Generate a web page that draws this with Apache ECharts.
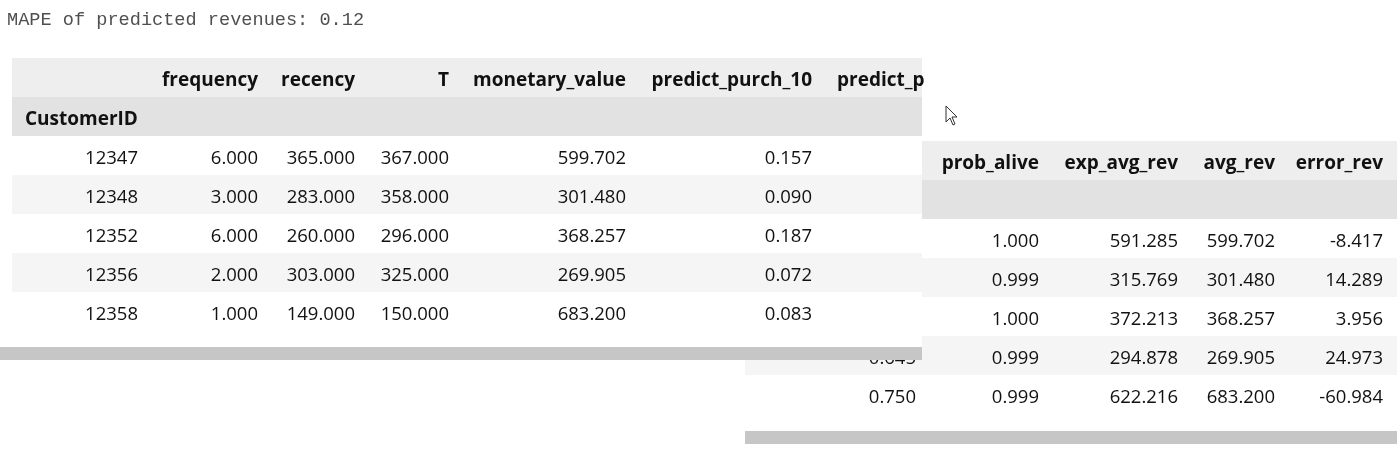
<!DOCTYPE html>
<html>
<head>
<meta charset="utf-8">
<script src="https://cdn.jsdelivr.net/npm/echarts@6/dist/echarts.min.js"></script>
<style>
  html, body { margin: 0; padding: 0; background: #fff; }
  #main { width: 1400px; height: 456px; }
</style>
</head>
<body>
<div id="main"></div>
<script>
var title = 'MAPE of predicted revenues: 0.12';
var indexName = 'CustomerID';
var customerIds = ['12347', '12348', '12352', '12356', '12358'];
var frequency = [6.000, 3.000, 6.000, 2.000, 1.000];
var recency = [365.000, 283.000, 260.000, 303.000, 149.000];
var tAge = [367.000, 358.000, 296.000, 325.000, 150.000];
var monetaryValue = [599.702, 301.480, 368.257, 269.905, 683.200];
var predictPurch10 = [0.157, 0.090, 0.187, 0.072, 0.083];
var predictPurchNext = [null, null, null, 0.645, 0.750]; // only the last rows peek out
var probAlive = [1.000, 0.999, 1.000, 0.999, 0.999];
var expAvgRev = [591.285, 315.769, 372.213, 294.878, 622.216];
var avgRev = [599.702, 301.480, 368.257, 269.905, 683.200];
var errorRev = [-8.417, 14.289, 3.956, 24.973, -60.984];

var leftHeaders = ['frequency', 'recency', 'T', 'monetary_value', 'predict_purch_10'];
var leftClipped = 'predict_p';
var rightHeaders = ['', 'prob_alive', 'exp_avg_rev', 'avg_rev', 'error_rev'];

// layout
var ROW_H = 39;
var DY = 3; // text sits a bit below the row middle
var FONT = '18.5px "Open Sans", sans-serif';
var BOLD = 'bold 19px "Open Sans", sans-serif';
var TXT = '#111';
var HEAD_BG = '#eeeeee';
var IDX_BG = '#e2e2e2';
var STRIPE = '#f5f5f5';
var BAR = '#c6c6c6';

function fmt(v) { return v == null ? '' : v.toFixed(3); }

var elements = [];

function text(x, y, s, font, align, z) {
    elements.push({
        type: 'text', x: x, y: y, z: z, silent: true,
        style: { text: s, font: font, fill: TXT, align: align, verticalAlign: 'middle' }
    });
}
function rect(x, y, w, h, color, z) {
    elements.push({
        type: 'rect', z: z, silent: true,
        shape: { x: x, y: y, width: w, height: h },
        style: { fill: color }
    });
}

// right-hand (scrolled) copy of the table, drawn underneath
var R = { x0: 745, x1: 1397, top: 141, z: 1 };
var rightCols = [predictPurchNext, probAlive, expAvgRev, avgRev, errorRev];
var rightEdges = [916, 1039, 1178, 1275, 1383];
rect(R.x0, R.top, R.x1 - R.x0, ROW_H, HEAD_BG, R.z);
rect(R.x0, R.top + ROW_H, R.x1 - R.x0, ROW_H, IDX_BG, R.z);
rightHeaders.forEach(function (h, i) {
    if (h) text(rightEdges[i], R.top + ROW_H / 2 + DY, h, BOLD, 'right', R.z + 1);
});
customerIds.forEach(function (id, r) {
    var y = R.top + ROW_H * (r + 2);
    if (r % 2 === 1) rect(R.x0, y, R.x1 - R.x0, ROW_H, STRIPE, R.z);
    rightCols.forEach(function (col, c) {
        text(rightEdges[c], y + ROW_H / 2 + DY, fmt(col[r]), FONT, 'right', R.z + 1);
    });
});
rect(R.x0, 431, R.x1 - R.x0, 13, BAR, R.z);

// left table panel, drawn on top
var L = { x0: 12, x1: 922, top: 58, z: 5 };
rect(0, 40, L.x1, 307, '#ffffff', L.z);
var leftCols = [frequency, recency, tAge, monetaryValue, predictPurch10];
var leftEdges = [258, 355, 449, 626, 812];
var idxEdge = 138;
rect(L.x0, L.top, L.x1 - L.x0, ROW_H, HEAD_BG, L.z);
rect(L.x0, L.top + ROW_H, L.x1 - L.x0, ROW_H, IDX_BG, L.z);
leftHeaders.forEach(function (h, i) {
    text(leftEdges[i], L.top + ROW_H / 2 + DY, h, BOLD, 'right', L.z + 1);
});
text(837, L.top + ROW_H / 2 + DY, leftClipped, BOLD, 'left', L.z + 1);
text(25, L.top + ROW_H * 1.5 + DY, indexName, BOLD, 'left', L.z + 1);
customerIds.forEach(function (id, r) {
    var y = L.top + ROW_H * (r + 2);
    if (r % 2 === 1) rect(L.x0, y, L.x1 - L.x0, ROW_H, STRIPE, L.z);
    text(idxEdge, y + ROW_H / 2 + DY, id, FONT, 'right', L.z + 1);
    leftCols.forEach(function (col, c) {
        text(leftEdges[c], y + ROW_H / 2 + DY, fmt(col[r]), FONT, 'right', L.z + 1);
    });
});
rect(0, 347, L.x1, 13, BAR, L.z + 2);

// notebook output line
elements.push({
    type: 'text', x: 7, y: 20, z: 9, silent: true,
    style: { text: title, font: '18.6px "Liberation Mono", monospace', fill: '#505050', verticalAlign: 'middle' }
});

// mouse pointer
elements.push({
    type: 'polygon', x: 946, y: 106, z: 9, silent: true,
    shape: { points: [[0, 0], [0, 16], [4, 12], [7, 19], [9, 18], [6, 11], [11, 11]] },
    style: { fill: '#fff', stroke: '#333', lineWidth: 1 }
});

var myChart = echarts.init(document.getElementById('main'));
myChart.setOption({
    backgroundColor: '#ffffff',
    animation: false,
    graphic: { elements: elements }
});
</script>
</body>
</html>
